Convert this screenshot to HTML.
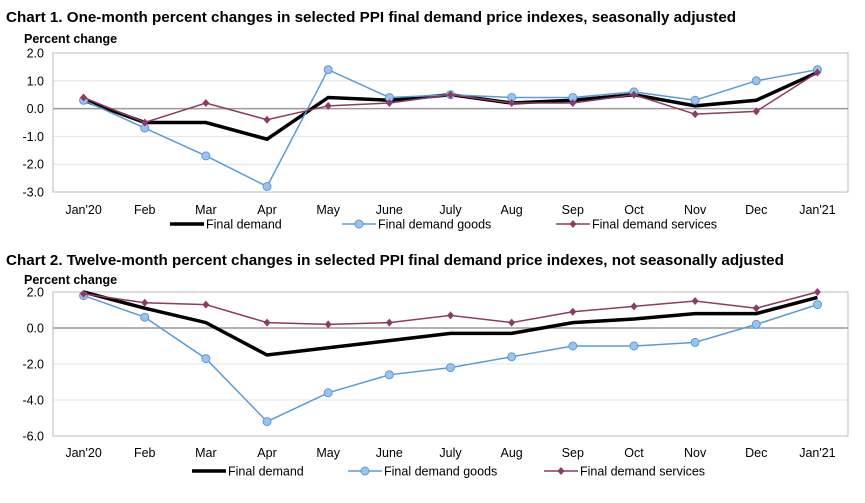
<!DOCTYPE html>
<html><head><meta charset="utf-8"><style>
body{margin:0;background:#fff;font-family:"Liberation Sans",Arial,sans-serif}
svg text{font-family:"Liberation Sans",Arial,sans-serif}
</style></head><body>
<svg id="s" width="865" height="498" viewBox="0 0 865 498" xmlns="http://www.w3.org/2000/svg">
<text x="6" y="22" font-size="15.2" font-weight="bold" fill="#000">Chart 1. One-month percent changes in selected PPI final demand price indexes, seasonally adjusted</text>
<text x="24" y="43" font-size="12.5" font-weight="bold">Percent change</text>
<text x="6" y="265" font-size="15.2" font-weight="bold">Chart 2. Twelve-month percent changes in selected PPI final demand price indexes, not seasonally adjusted</text>
<text x="24" y="284" font-size="12.5" font-weight="bold">Percent change</text>
</svg>
<script>
const categories=["Jan'20","Feb","Mar","Apr","May","June","July","Aug","Sep","Oct","Nov","Dec","Jan'21"];
const c1Final=[0.3,-0.5,-0.5,-1.1,0.4,0.3,0.5,0.2,0.3,0.5,0.1,0.3,1.3];
const c1Goods=[0.3,-0.7,-1.7,-2.8,1.4,0.4,0.5,0.4,0.4,0.6,0.3,1.0,1.4];
const c1Services=[0.4,-0.5,0.2,-0.4,0.1,0.2,0.5,0.2,0.2,0.5,-0.2,-0.1,1.3];
const c1Ticks=[2,1,0,-1,-2,-3];
const c2Final=[2.0,1.1,0.3,-1.5,-1.1,-0.7,-0.3,-0.3,0.3,0.5,0.8,0.8,1.7];
const c2Goods=[1.8,0.6,-1.7,-5.2,-3.6,-2.6,-2.2,-1.6,-1.0,-1.0,-0.8,0.2,1.3];
const c2Services=[1.9,1.4,1.3,0.3,0.2,0.3,0.7,0.3,0.9,1.2,1.5,1.1,2.0];
const c2Ticks=[2,0,-2,-4,-6];
const NS="http://www.w3.org/2000/svg",svg=document.getElementById('s');
function mk(t,a,p){const e=document.createElementNS(NS,t);for(const k in a)e.setAttribute(k,a[k]);(p||svg).appendChild(e);return e;}
function chart(id,top,bot,vmax,vmin,ticks,series,labY,legY,legX){
  const L=53,R=848,bw=(R-L)/categories.length;
  const x=i=>L+bw*(i+0.5), y=v=>top+(vmax-v)/(vmax-vmin)*(bot-top);
  const g=mk('g',{});
  
  
  ticks.forEach(t=>{
    if(t!==vmin&&t!==vmax&&t!==0){const l=mk('line',{x1:L,x2:R,y1:y(t),y2:y(t),stroke:'#e4e4e4'},g);
    }
    const tx=mk('text',{x:L-9,y:y(t)+4.5,'text-anchor':'end','font-size':'12.5'},g);tx.textContent=t.toFixed(1);
    
  });
  const fr=mk('rect',{x:L,y:top,width:R-L,height:bot-top,fill:'none',stroke:'#bdbdbd'},g);
  
  const z=mk('line',{x1:L,x2:R,y1:y(0),y2:y(0),stroke:'#999','stroke-width':1.5},g);
  
  categories.forEach((c,i)=>{const t=mk('text',{x:x(i),y:labY,'text-anchor':'middle','font-size':'12.5'},g);t.textContent=c;
    });
  series.forEach(s=>{
    const pl=mk('polyline',{points:s.d.map((v,i)=>x(i)+','+y(v)).join(' '),fill:'none',stroke:s.c,'stroke-width':s.w},g);
    
    s.d.forEach((v,i)=>{
      if(s.m==='o'){const m=mk('circle',{cx:x(i),cy:y(v),r:4,fill:'#9cc3ee',stroke:'#5b9bd5'},g);
        }
      if(s.m==='d'){const cx=x(i),cy=y(v);const m=mk('polygon',{points:`${cx},${cy-4} ${cx+3.5},${cy} ${cx},${cy+4} ${cx-3.5},${cy}`,fill:'#8e3a64'},g);
        }
    });
  });
  series.forEach((s,k)=>{
    const lx=legX[k];
    const lg=mk('g',{},g);
    
    mk('line',{x1:lx,x2:lx+34,y1:legY,y2:legY,stroke:s.c,'stroke-width':s.w},lg);
    if(s.m==='o')mk('circle',{cx:lx+17,cy:legY,r:4,fill:'#9cc3ee',stroke:'#5b9bd5'},lg);
    if(s.m==='d')mk('polygon',{points:`${lx+17},${legY-4} ${lx+20.5},${legY} ${lx+17},${legY+4} ${lx+13.5},${legY}`,fill:'#8e3a64'},lg);
    const t=mk('text',{x:lx+36,y:legY+4.5,'font-size':'12.5'},lg);t.textContent=s.t;
  });
}
chart('chart1',53,192,2,-3,c1Ticks,[
 {d:c1Final,c:'#000',w:3.5,m:'',n:'final-demand',t:'Final demand'},
 {d:c1Goods,c:'#5b9bd5',w:1.5,m:'o',n:'final-demand-goods',t:'Final demand goods'},
 {d:c1Services,c:'#8e3a64',w:1.5,m:'d',n:'final-demand-services',t:'Final demand services'}],214,224,[170,342,556]);
chart('chart2',292,436,2,-6,c2Ticks,[
 {d:c2Final,c:'#000',w:3.5,m:'',n:'final-demand',t:'Final demand'},
 {d:c2Goods,c:'#5b9bd5',w:1.5,m:'o',n:'final-demand-goods',t:'Final demand goods'},
 {d:c2Services,c:'#8e3a64',w:1.5,m:'d',n:'final-demand-services',t:'Final demand services'}],457,471,[192,348,544]);
</script>
</body></html>
